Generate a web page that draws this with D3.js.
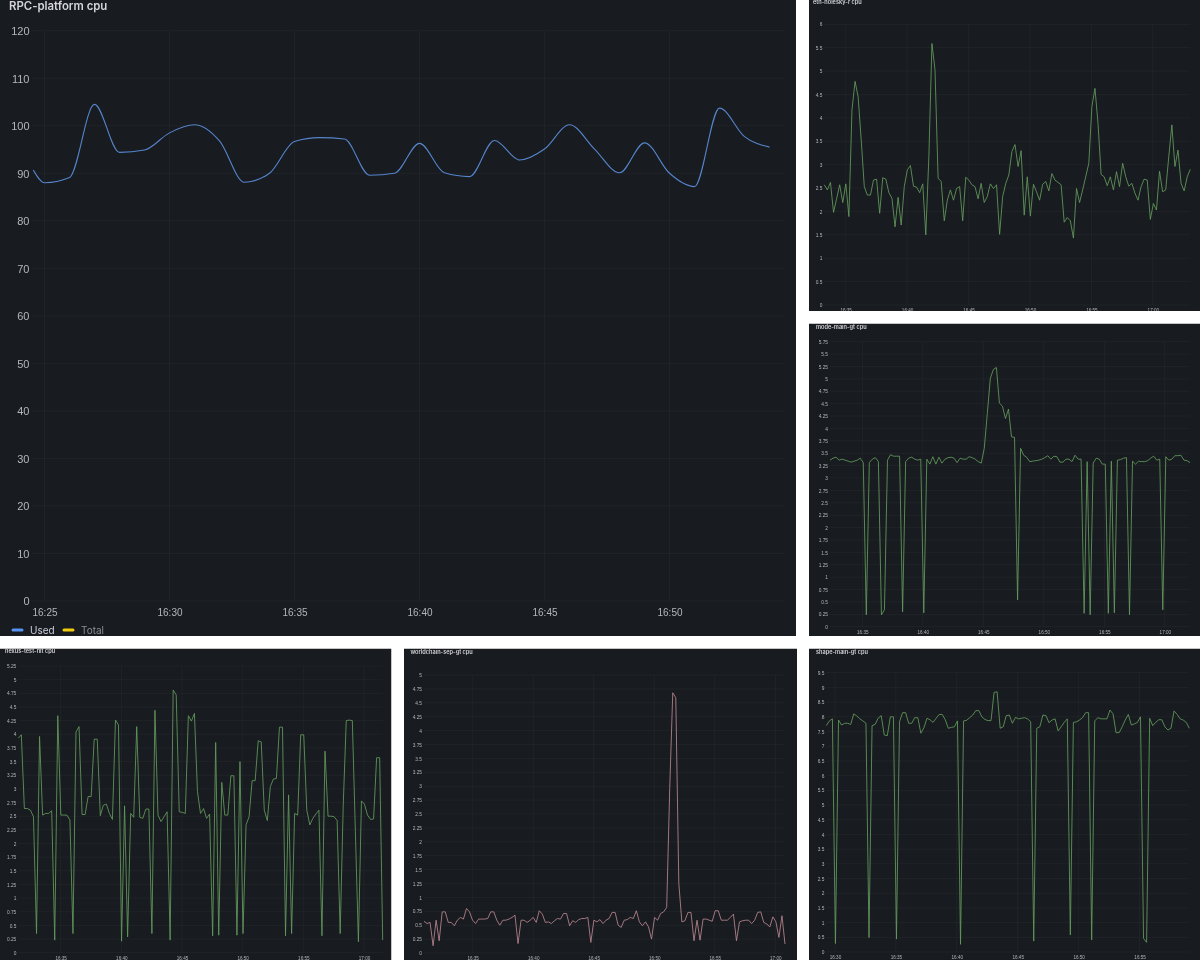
<!DOCTYPE html>
<html>
<head>
<meta charset="utf-8">
<script src="https://cdn.jsdelivr.net/npm/d3@7"></script>
<style>
  html, body { margin: 0; padding: 0; background: #fff; }
  svg { display: block; font-family: Inter, "Noto Sans", sans-serif; }
  .soft { filter: blur(0.3px); }
</style>
</head>
<body>
<div id="chart"></div>
<script>
// minutes after 16:00
var mainMinutes = [24.55, 25, 26, 27, 28, 29, 30, 31, 32, 33, 34, 35, 36, 37, 38, 39, 40, 41, 42, 43, 44, 45, 46, 47, 48, 49, 50, 51, 52, 53, 54];
var mainUsed = [90.7, 88, 89.1, 104.5, 94.4, 94.9, 98.5, 100.2, 96.8, 88.1, 90, 96.7, 97.5, 97.2, 89.6, 90, 96.3, 90.1, 89.3, 96.9, 92.8, 95.1, 100.2, 95.1, 90.1, 96.4, 90, 87.2, 103.7, 97.7, 95.5];
var mainTicks = [0, 10, 20, 30, 40, 50, 60, 70, 80, 90, 100, 110, 120];
var mainTimeTicks = [25, 30, 35, 40, 45, 50];

var ethValues = [2.57, 2.46, 2.62, 1.98, 2.27, 2.57, 2.19, 2.59, 1.89, 4.17, 4.78, 4.45, 3.53, 2.53, 2.35, 2.35, 2.67, 2.69, 1.96, 2.72, 2.69, 2.40, 2.28, 1.67, 2.30, 1.71, 2.53, 2.89, 2.98, 2.54, 2.52, 2.40, 2.59, 1.50, 3.17, 5.59, 5.02, 2.71, 2.64, 1.80, 2.24, 2.46, 2.24, 2.49, 2.53, 1.80, 2.73, 2.67, 2.57, 2.53, 2.27, 2.60, 2.19, 2.32, 2.59, 2.49, 2.57, 1.51, 2.32, 2.60, 2.78, 3.28, 3.43, 2.96, 3.30, 1.92, 2.74, 1.90, 2.58, 2.42, 2.24, 2.58, 2.64, 2.44, 2.81, 2.67, 2.62, 2.57, 1.77, 1.87, 1.80, 1.43, 2.49, 2.19, 2.46, 2.74, 3.03, 4.24, 4.63, 3.88, 2.79, 2.74, 2.55, 2.74, 2.46, 2.85, 2.53, 3.03, 2.74, 2.54, 2.60, 2.39, 2.24, 2.53, 2.69, 2.67, 1.83, 2.17, 2.03, 2.86, 2.42, 2.46, 3.17, 3.85, 2.96, 3.31, 2.60, 2.44, 2.74, 2.90];
var ethTicks = [0, 0.5, 1, 1.5, 2, 2.5, 3, 3.5, 4, 4.5, 5, 5.5, 6];
var ethTimes = [35, 40, 45, 50, 55, 60];

var modeValues = [3.36, 3.40, 3.42, 3.36, 3.38, 3.36, 3.34, 3.32, 3.34, 3.36, 3.40, 3.31, 0.24, 3.31, 3.38, 3.41, 3.33, 0.24, 0.34, 3.36, 3.47, 3.44, 3.44, 3.44, 0.30, 3.33, 3.40, 3.42, 3.38, 3.36, 3.38, 0.28, 3.38, 3.28, 3.43, 3.28, 3.42, 3.30, 3.38, 3.41, 3.42, 3.40, 3.31, 3.40, 3.38, 3.38, 3.43, 3.41, 3.38, 3.33, 3.30, 3.60, 4.30, 5.01, 5.19, 5.23, 4.51, 4.45, 4.20, 4.39, 3.83, 3.82, 0.54, 3.60, 3.46, 3.42, 3.33, 3.34, 3.35, 3.36, 3.38, 3.41, 3.45, 3.38, 3.44, 3.43, 3.32, 3.32, 3.38, 3.38, 3.33, 3.46, 3.38, 3.38, 0.27, 3.33, 0.24, 3.30, 3.40, 3.38, 3.28, 3.28, 0.27, 3.34, 0.28, 3.36, 3.37, 3.40, 3.41, 0.24, 3.34, 3.28, 3.34, 3.33, 3.33, 3.35, 3.40, 3.44, 3.36, 3.38, 0.34, 3.43, 3.36, 3.38, 3.45, 3.45, 3.46, 3.36, 3.35, 3.31];
var modeTicks = [0, 0.25, 0.5, 0.75, 1, 1.25, 1.5, 1.75, 2, 2.25, 2.5, 2.75, 3, 3.25, 3.5, 3.75, 4, 4.25, 4.5, 4.75, 5, 5.25, 5.5, 5.75];
var modeTimes = [35, 40, 45, 50, 55, 60];

var nexusValues = [3.93, 3.99, 2.64, 2.64, 2.61, 2.49, 0.35, 3.96, 2.52, 2.55, 2.55, 2.60, 0.23, 4.34, 2.52, 2.52, 2.52, 2.43, 0.35, 4.04, 4.14, 2.53, 2.53, 2.86, 2.86, 3.91, 3.91, 2.51, 2.70, 2.72, 2.55, 2.44, 4.26, 4.17, 0.21, 2.69, 0.29, 2.55, 2.48, 4.14, 2.48, 2.46, 2.63, 2.63, 0.35, 4.44, 2.52, 2.40, 2.49, 2.58, 0.23, 4.81, 4.72, 2.58, 2.57, 2.55, 4.34, 4.24, 4.38, 2.95, 2.55, 2.64, 2.46, 2.54, 0.31, 3.85, 0.32, 3.12, 2.52, 2.52, 3.24, 3.24, 0.32, 3.50, 0.35, 2.34, 2.49, 3.15, 3.15, 3.88, 3.86, 2.61, 2.42, 3.04, 3.18, 3.19, 4.13, 4.13, 0.31, 2.89, 0.35, 2.55, 2.52, 3.99, 3.99, 2.61, 2.34, 2.46, 2.54, 2.61, 0.31, 3.69, 2.50, 2.50, 2.49, 2.42, 0.35, 2.70, 4.25, 4.26, 4.25, 2.22, 0.20, 2.78, 2.72, 2.52, 2.44, 2.45, 3.57, 3.57, 0.23];
var nexusTicks = [0, 0.25, 0.5, 0.75, 1, 1.25, 1.5, 1.75, 2, 2.25, 2.5, 2.75, 3, 3.25, 3.5, 3.75, 4, 4.25, 4.5, 4.75, 5, 5.25];
var nexusTimes = [35, 40, 45, 50, 55, 60];

var worldValues = [0.57, 0.53, 0.55, 0.13, 0.59, 0.22, 0.74, 0.74, 0.55, 0.55, 0.49, 0.59, 0.64, 0.61, 0.80, 0.74, 0.59, 0.53, 0.61, 0.61, 0.61, 0.62, 0.74, 0.74, 0.59, 0.50, 0.59, 0.59, 0.61, 0.64, 0.68, 0.17, 0.59, 0.59, 0.55, 0.59, 0.64, 0.55, 0.76, 0.70, 0.55, 0.56, 0.53, 0.58, 0.62, 0.61, 0.71, 0.71, 0.49, 0.58, 0.55, 0.60, 0.62, 0.62, 0.64, 0.19, 0.59, 0.56, 0.60, 0.53, 0.59, 0.62, 0.73, 0.73, 0.50, 0.46, 0.59, 0.60, 0.64, 0.62, 0.76, 0.56, 0.49, 0.56, 0.47, 0.25, 0.64, 0.59, 0.71, 0.74, 0.82, 2.96, 4.68, 4.59, 1.25, 0.56, 0.58, 0.73, 0.73, 0.22, 0.59, 0.23, 0.61, 0.61, 0.59, 0.57, 0.76, 0.76, 0.59, 0.59, 0.59, 0.64, 0.70, 0.22, 0.56, 0.58, 0.59, 0.59, 0.53, 0.59, 0.73, 0.74, 0.55, 0.52, 0.47, 0.65, 0.56, 0.28, 0.67, 0.16];
var worldTicks = [0, 0.25, 0.5, 0.75, 1, 1.25, 1.5, 1.75, 2, 2.25, 2.5, 2.75, 3, 3.25, 3.5, 3.75, 4, 4.25, 4.5, 4.75, 5];
var worldTimes = [35, 40, 45, 50, 55, 60];

var shapeValues = [7.70, 7.86, 7.93, 0.29, 7.89, 7.72, 7.78, 7.78, 7.74, 8.10, 8.03, 7.93, 7.86, 7.78, 0.49, 7.70, 7.74, 7.95, 8.04, 7.38, 7.36, 8.00, 8.00, 0.44, 7.83, 8.14, 8.14, 7.78, 7.78, 7.97, 7.97, 7.44, 7.63, 7.95, 7.90, 7.81, 7.95, 8.08, 8.08, 7.90, 7.61, 7.64, 7.66, 7.86, 0.26, 7.86, 7.88, 7.97, 8.06, 8.21, 8.21, 8.00, 7.91, 7.87, 7.87, 8.83, 8.85, 7.61, 7.66, 8.04, 8.06, 7.78, 7.98, 7.93, 7.95, 7.97, 7.93, 7.83, 0.37, 7.61, 7.66, 8.06, 8.04, 7.80, 7.89, 7.93, 7.52, 7.66, 7.81, 7.93, 0.58, 7.81, 7.83, 7.89, 7.97, 8.14, 8.14, 0.41, 7.86, 7.97, 7.93, 7.93, 7.93, 8.23, 8.10, 7.46, 7.46, 7.66, 7.89, 8.08, 7.72, 7.76, 7.81, 8.00, 0.46, 0.33, 7.95, 7.70, 7.81, 7.90, 7.90, 7.66, 7.55, 7.61, 8.20, 8.08, 7.93, 7.89, 7.81, 7.61];
var shapeTicks = [0, 0.5, 1, 1.5, 2, 2.5, 3, 3.5, 4, 4.5, 5, 5.5, 6, 6.5, 7, 7.5, 8, 8.5, 9, 9.5];
var shapeTimes = [30, 35, 40, 45, 50, 55];

var bg = "#181b1f";
var gridColor = "rgba(204,204,220,0.06)";
var tickColor = "#b4b6bd";
var green = "#649c5f";
var pink = "#bb8690";

var fmtTime = function(m) {
  return "" + (16 + Math.floor(m / 60)) + ":" + d3.format("02")(m % 60);
};

var svg = d3.select("#chart").append("svg").attr("width", 1200).attr("height", 960);
var defs = svg.append("defs");

function panel(id, box) {
  defs.append("clipPath").attr("id", "clip-" + id)
    .append("rect").attr("x", box.x).attr("y", box.y).attr("width", box.w).attr("height", box.h);
  var g = svg.append("g").attr("clip-path", "url(#clip-" + id + ")");
  g.append("rect").attr("x", box.x).attr("y", box.y).attr("width", box.w).attr("height", box.h).attr("fill", bg);
  return g.append("g").attr("class", "soft");
}

function drawGrid(g, x, y, times, ticks, yFont, xFont, labelY, labelGap) {
  var left = x.range()[0], right = x.range()[1];

  var yAxis = d3.axisLeft(y).tickValues(ticks).tickSize(0).tickFormat(function(d) { return d; });
  var ya = g.append("g").attr("transform", "translate(" + left + ",0)").call(yAxis);
  ya.select(".domain").remove();
  ya.selectAll("text").attr("x", -labelGap).attr("dy", "0.35em").attr("fill", tickColor).style("font-size", yFont + "px");

  var xAxis = d3.axisBottom(x).tickValues(times).tickSize(0).tickFormat(fmtTime);
  var xa = g.append("g").attr("transform", "translate(0," + labelY + ")").call(xAxis);
  xa.select(".domain").remove();
  xa.selectAll("text").attr("y", 0).attr("dy", "0.35em").attr("fill", tickColor).style("font-size", xFont + "px");

  g.append("g").selectAll("line").data(ticks).enter().append("line")
    .attr("x1", left).attr("x2", right)
    .attr("y1", function(d) { return y(d); }).attr("y2", function(d) { return y(d); })
    .attr("stroke", gridColor).attr("stroke-width", 0.8);
  g.append("g").selectAll("line").data(times).enter().append("line")
    .attr("x1", function(d) { return x(d); }).attr("x2", function(d) { return x(d); })
    .attr("y1", y.range()[1]).attr("y2", y.range()[0])
    .attr("stroke", gridColor).attr("stroke-width", 0.8);
}

// small panels: one sample every 15s between t0 and t1
function smallPanel(p) {
  var g = panel(p.id, p.box);
  var x = d3.scaleLinear().domain([p.t0, p.t1]).range([p.x0, p.x1]);
  var y = d3.scaleLinear().domain([0, p.ticks[p.ticks.length - 1]]).range([p.y0, p.y1]);
  drawGrid(g, x, y, p.times, p.ticks, 4.8, 4.6, p.labelY, 2);

  var step = (p.t1 - p.t0) / (p.values.length - 1);
  var line = d3.line()
    .x(function(d, i) { return x(p.t0 + i * step); })
    .y(function(d) { return y(d); });
  g.append("path").datum(p.values)
    .attr("d", line).attr("fill", "none")
    .attr("stroke", p.color).attr("stroke-width", 0.85).attr("stroke-linejoin", "round");

  g.append("text").text(p.title)
    .attr("x", p.titleX).attr("y", p.titleY).attr("dy", "0.35em")
    .attr("fill", "#d4d5dc").style("font-size", "5.6px").style("font-weight", 600);
}

// main panel
var mainG = panel("main", {x: 0, y: 0, w: 796, h: 636});
var mainX = d3.scaleLinear().domain([24.5, 54.62]).range([32, 785]);
var mainY = d3.scaleLinear().domain([0, 120]).range([601, 30.7]);
drawGrid(mainG, mainX, mainY, mainTimeTicks, mainTicks, 11, 10, 612, 2.5);
mainG.append("path").datum(mainMinutes.map(function(m, i) { return [m, mainUsed[i]]; }))
  .attr("d", d3.line().curve(d3.curveMonotoneX)
    .x(function(d) { return mainX(d[0]); })
    .y(function(d) { return mainY(d[1]); }))
  .attr("fill", "none").attr("stroke", "#5585cc").attr("stroke-width", 1.1);

mainG.append("text").text("RPC-platform cpu")
  .attr("x", 9).attr("y", 5.5).attr("dy", "0.35em")
  .attr("fill", "#d4d5dc").style("font-size", "11.4px").style("font-weight", 600);

var legendNames = ["Used", "Total"];
var legendColors = ["#5794f2", "#f2cc0c"];
var legendFill = ["#ccccdc", "#8a8c93"];
var legendX = [12, 63];
legendNames.forEach(function(name, i) {
  mainG.append("line")
    .attr("x1", legendX[i] + 1).attr("x2", legendX[i] + 10).attr("y1", 630).attr("y2", 630)
    .attr("stroke", legendColors[i]).attr("stroke-width", 3).attr("stroke-linecap", "round");
  mainG.append("text").text(name)
    .attr("x", legendX[i] + 18).attr("y", 630).attr("dy", "0.35em")
    .attr("fill", legendFill[i]).style("font-size", "10px");
});

smallPanel({id: "eth", box: {x: 809, y: 0, w: 391, h: 311}, title: "eth-holesky-r cpu", titleX: 813, titleY: 2.3,
  values: ethValues, ticks: ethTicks, times: ethTimes, color: green,
  t0: 33.26, t1: 63.05, x0: 824.3, x1: 1190.3, y0: 305, y1: 24.3, labelY: 310});
smallPanel({id: "mode", box: {x: 809, y: 323.5, w: 391, h: 312.5}, title: "mode-main-gt cpu", titleX: 816, titleY: 326.7,
  values: modeValues, ticks: modeTicks, times: modeTimes, color: green,
  t0: 32.33, t1: 62.08, x0: 830, x1: 1190, y0: 626.7, y1: 341.7, labelY: 632.3});
smallPanel({id: "nexus", box: {x: 0, y: 648.5, w: 391.5, h: 311.5}, title: "nexus-test-nit cpu", titleX: 5, titleY: 651,
  values: nexusValues, ticks: nexusTicks, times: nexusTimes, color: green,
  t0: 31.51, t1: 61.54, x0: 18.3, x1: 382.7, y0: 952.7, y1: 666, labelY: 958});
smallPanel({id: "world", box: {x: 404, y: 648.5, w: 393, h: 311.5}, title: "worldchain-sep-gt cpu", titleX: 410.5, titleY: 651.7,
  values: worldValues, ticks: worldTicks, times: worldTimes, color: pink,
  t0: 30.98, t1: 60.8, x0: 424, x1: 785, y0: 953, y1: 675, labelY: 958.3});
smallPanel({id: "shape", box: {x: 809, y: 648.5, w: 391, h: 311.5}, title: "shape-main-gt cpu", titleX: 816, titleY: 651.7,
  values: shapeValues, ticks: shapeTicks, times: shapeTimes, color: green,
  t0: 29.29, t1: 59.08, x0: 826.3, x1: 1189.3, y0: 952, y1: 672.7, labelY: 957.7});
</script>
</body>
</html>
